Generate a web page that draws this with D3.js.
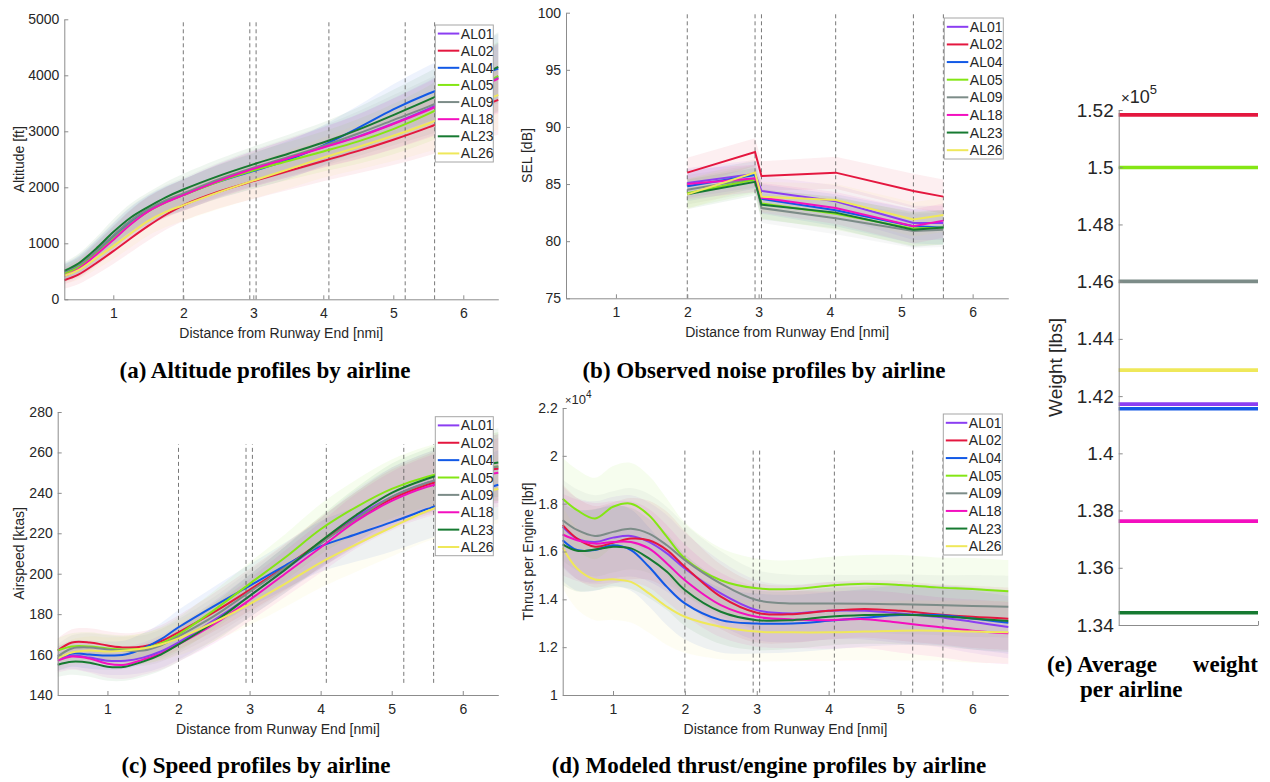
<!DOCTYPE html>
<html>
<head>
<meta charset="utf-8">
<script src="https://cdn.jsdelivr.net/npm/d3@7"></script>
<style>
body { margin: 0; background: #fff; }
svg text { font-family: "Liberation Sans", Arial, sans-serif; fill: #262626; }
.cap { font-family: "Liberation Serif", "Times New Roman", serif; font-weight: bold; fill: #000; }
.axis path, .axis line { stroke: #8c8c8c; }
</style>
</head>
<body>
<svg id="fig" width="1270" height="782"></svg>
<script>
const airlines = ['AL01', 'AL02', 'AL04', 'AL05', 'AL09', 'AL18', 'AL23', 'AL26'];
const colors = ['#8b3ef2', '#e4173f', '#1259e6', '#84e614', '#7c8c88', '#f30fbf', '#167a31', '#efe85a'];

// distance grid of the smoothed profiles [nmi]
const distGrid = [0.3, 0.5, 0.75, 1, 1.25, 1.5, 1.75, 2, 2.5, 3, 3.5, 4, 4.5, 5, 5.5, 6, 6.5];
// microphone locations (dashed guides) [nmi]
const micDist = [2.0, 2.95, 3.04, 4.08, 5.17, 5.59];

// (a) altitude [ft], one row per airline
const altitude = [
  [470, 580, 820, 1090, 1360, 1580, 1740, 1860, 2120, 2330, 2520, 2720, 2910, 3140, 3400, 3680, 3960],
  [340, 440, 640, 860, 1090, 1310, 1510, 1680, 1920, 2110, 2290, 2470, 2650, 2850, 3070, 3320, 3560],
  [480, 600, 850, 1130, 1400, 1600, 1750, 1870, 2100, 2290, 2490, 2750, 3060, 3390, 3670, 3900, 4120],
  [460, 570, 810, 1080, 1350, 1570, 1730, 1860, 2100, 2300, 2470, 2640, 2820, 3040, 3310, 3640, 3990],
  [490, 610, 860, 1140, 1410, 1610, 1770, 1890, 2140, 2350, 2540, 2740, 2960, 3200, 3440, 3700, 3960],
  [420, 540, 790, 1060, 1340, 1570, 1730, 1860, 2110, 2330, 2520, 2710, 2900, 3130, 3380, 3650, 3940],
  [510, 640, 900, 1200, 1460, 1650, 1820, 1960, 2200, 2410, 2600, 2800, 3030, 3290, 3560, 3850, 4150],
  [420, 520, 730, 950, 1180, 1400, 1560, 1680, 1910, 2120, 2320, 2530, 2720, 2920, 3140, 3390, 3650]
];
const altSpread = [150, 170, 200, 230, 250, 260, 270, 280, 300, 320, 340, 360, 400, 450, 500, 560, 620];

// (b) observed SEL [dB] at the microphones
const sel = [
  [85.1, 85.9, 84.4, 83.5, 81.6, 81.6],
  [86.0, 87.8, 85.7, 86.0, 84.4, 83.9],
  [84.8, 85.8, 83.7, 82.7, 81.3, 81.2],
  [84.2, 85.4, 83.3, 82.4, 81.1, 81.2],
  [84.5, 85.5, 82.9, 82.0, 80.9, 81.0],
  [85.0, 85.5, 83.8, 82.9, 81.3, 81.8],
  [84.1, 85.2, 83.2, 82.5, 81.0, 81.2],
  [84.1, 86.0, 83.9, 83.6, 81.9, 82.3]
];
const selSpread = [1.3, 1.2, 1.3, 1.4, 1.5, 1.5];

// (c) airspeed [ktas]
const airspeed = [
  [158, 159.5, 158.5, 157, 157, 158.5, 161.5, 166, 177, 189, 202, 215, 228, 238, 245, 249, 252],
  [162, 166, 166, 164.5, 163.5, 164, 166.5, 171, 181, 192, 203.5, 215.5, 227, 237, 244, 249, 252],
  [158, 160.5, 160, 159.5, 160, 163, 167.5, 173.5, 184, 194, 204, 213.5, 219.5, 225.5, 232, 238.5, 244],
  [162, 164, 164, 163, 162.5, 163, 165.5, 170, 182, 195, 208, 222, 233, 242, 248, 251.5, 253],
  [159, 163, 163.5, 162.5, 162, 162, 164.5, 169, 179, 191, 203, 215, 227, 238, 245, 250, 253],
  [157, 159, 158, 155.5, 155, 157.5, 160.5, 165, 175, 187, 200, 213, 226, 236, 243, 247, 250],
  [155, 156.5, 156, 154, 154, 156.5, 160, 165, 176, 189, 202, 216, 229, 240, 247, 252, 255],
  [158, 161, 162, 161.5, 162, 163, 165, 168, 176, 185, 195, 205.5, 214.5, 223, 231, 237, 242]
];
const speedSpread = [6, 6.5, 7, 7, 7, 7.5, 8, 8.5, 9.5, 10.5, 11.5, 12.5, 13.5, 14.5, 15, 16, 17];

// (d) modeled thrust per engine [lbf]
const thrust = [
  [17030, 16540, 16400, 16580, 16650, 16400, 15920, 15290, 14250, 13550, 13410, 13520, 13520, 13410, 13270, 13060, 12840],
  [17100, 16540, 16200, 16360, 16540, 16470, 16060, 15360, 14110, 13440, 13380, 13520, 13600, 13520, 13380, 13270, 13190],
  [16470, 16060, 16060, 16260, 16060, 15360, 14520, 13830, 13130, 12990, 12990, 13100, 13230, 13340, 13340, 13200, 13020],
  [18210, 17730, 17380, 17870, 18000, 17520, 16610, 15710, 14800, 14460, 14430, 14570, 14650, 14600, 14500, 14430, 14340],
  [17310, 16900, 16650, 16820, 16950, 16750, 16260, 15640, 14660, 13970, 13830, 13830, 13820, 13790, 13760, 13720, 13690],
  [16710, 16470, 16330, 16400, 16400, 16130, 15500, 14800, 13760, 13270, 13160, 13130, 13170, 13020, 12850, 12690, 12580],
  [16300, 16030, 16080, 16200, 16130, 15710, 15150, 14390, 13480, 13130, 13130, 13270, 13340, 13370, 13300, 13200, 13090],
  [16170, 15290, 14830, 14840, 14730, 14250, 13690, 13270, 12850, 12650, 12620, 12620, 12650, 12690, 12690, 12650, 12620]
];
const thrustSpread = [1700, 1700, 1700, 1700, 1700, 1650, 1600, 1500, 1350, 1250, 1200, 1200, 1200, 1250, 1250, 1300, 1300];

// (e) average weight [lbs]
const weights = [141720, 151830, 141560, 149990, 146010, 137630, 134430, 142910];

const svg = d3.select('#fig');

function panel(cfg) {
    const g = svg.append('g');
    const x = d3.scaleLinear().domain([0.3, 6.5]).range([cfg.box.l, cfg.box.r]);
    const y = d3.scaleLinear().domain(cfg.yDomain).range([cfg.box.b, cfg.box.t]);
    const curve = cfg.linear ? d3.curveLinear : d3.curveCatmullRom.alpha(0.5);

    // shaded spread bands
    const area = d3.area()
        .x(d => x(d.x))
        .y0(d => y(d.v - d.s))
        .y1(d => y(d.v + d.s))
        .curve(curve);
    const line = d3.line()
        .x(d => x(d.x))
        .y(d => y(d.v))
        .curve(curve);
    const series = cfg.data.map((row, i) => row.map((v, j) => ({ x: cfg.xs[j], v: v, s: cfg.spread[j] })));

    g.append('g').selectAll('path')
        .data(series)
      .enter().append('path')
        .attr('d', area)
        .attr('fill', (d, i) => colors[i])
        .attr('fill-opacity', 0.07)
        .attr('stroke', 'none');

    // dashed microphone guides
    g.append('g').selectAll('line')
        .data(micDist)
      .enter().append('line')
        .attr('x1', d => x(d)).attr('x2', d => x(d))
        .attr('y1', y(cfg.guide[0])).attr('y2', y(cfg.guide[1]))
        .attr('stroke', '#555')
        .attr('stroke-width', 0.8)
        .attr('stroke-dasharray', '4,3');

    g.append('g').selectAll('path')
        .data(series)
      .enter().append('path')
        .attr('d', line)
        .attr('fill', 'none')
        .attr('stroke', (d, i) => colors[i])
        .attr('stroke-width', 2);

    // axes
    g.append('g').classed('axis', true)
        .attr('transform', 'translate(0,' + cfg.box.b + ')')
        .call(d3.axisBottom(x).tickValues([1, 2, 3, 4, 5, 6]).tickSize(-4).tickSizeOuter(0).tickPadding(9)
            .tickFormat(d3.format('d')));
    g.append('g').classed('axis', true)
        .attr('transform', 'translate(' + cfg.box.l + ',0)')
        .call(d3.axisLeft(y).tickValues(cfg.yTicks).tickSize(-4).tickSizeOuter(0).tickPadding(5)
            .tickFormat(cfg.fmt || (d => d)));
    g.selectAll('.axis text').attr('font-size', '14px').attr('font-family', null);

    g.append('text')
        .attr('x', (cfg.box.l + cfg.box.r) / 2)
        .attr('y', cfg.xlabelY)
        .attr('text-anchor', 'middle')
        .attr('font-size', '14px')
        .text('Distance from Runway End [nmi]');
    g.append('text')
        .attr('transform', 'translate(' + cfg.ylabelX + ',' + ((cfg.box.t + cfg.box.b) / 2) + ') rotate(-90)')
        .attr('dy', '0.35em')
        .attr('text-anchor', 'middle')
        .attr('font-size', '14px')
        .text(cfg.ylabel);

    // legend
    const lg = g.append('g').attr('transform', 'translate(' + cfg.legend.x + ',' + cfg.legend.y + ')');
    lg.append('rect')
        .attr('width', cfg.legend.w).attr('height', cfg.legend.h)
        .attr('fill', '#fff').attr('stroke', '#a6a6a6').attr('stroke-width', 1);
    const step = cfg.legend.h / airlines.length;
    const item = lg.selectAll('.item')
        .data(airlines)
      .enter().append('g')
        .attr('transform', (d, i) => 'translate(0,' + (step * (i + 0.5)) + ')');
    item.append('line')
        .attr('x1', 2.5).attr('x2', 24)
        .attr('stroke', (d, i) => colors[i])
        .attr('stroke-width', 2);
    item.append('text')
        .attr('x', 25.5)
        .attr('dy', '0.36em')
        .attr('font-size', '14px')
        .text(d => d);

    return g;
}

panel({
    box: { l: 64.3, r: 498.3, t: 19.3, b: 299.3 },
    yDomain: [0, 5000], yTicks: [0, 1000, 2000, 3000, 4000, 5000],
    data: altitude, spread: altSpread, xs: distGrid, guide: [0, 5000],
    legend: { x: 435.3, y: 25, w: 58, h: 137 },
    ylabel: 'Altitude [ft]', ylabelX: 19, xlabelY: 338
});

panel({
    box: { l: 566, r: 1008.3, t: 12.7, b: 298.3 },
    yDomain: [75, 100], yTicks: [75, 80, 85, 90, 95, 100],
    data: sel, spread: selSpread, xs: micDist, guide: [75, 100], linear: true,
    legend: { x: 944.3, y: 18, w: 59, h: 141 },
    ylabel: 'SEL [dB]', ylabelX: 527, xlabelY: 337
});

panel({
    box: { l: 57.7, r: 498.3, t: 412, b: 695 },
    yDomain: [140, 280], yTicks: [140, 160, 180, 200, 220, 240, 260, 280],
    data: airspeed, spread: speedSpread, xs: distGrid, guide: [146, 264],
    legend: { x: 435.3, y: 416.7, w: 58, h: 139 },
    ylabel: 'Airspeed [ktas]', ylabelX: 19, xlabelY: 734
});

panel({
    box: { l: 562.7, r: 1008.3, t: 408, b: 695 },
    yDomain: [10000, 22000], yTicks: [10000, 12000, 14000, 16000, 18000, 20000, 22000],
    data: thrust, spread: thrustSpread, xs: distGrid, guide: [10100, 20300],
    fmt: d => d / 1e4,
    legend: { x: 943.3, y: 414, w: 59, h: 141 },
    ylabel: 'Thrust per Engine [lbf]', ylabelX: 528, xlabelY: 734
});

// x10^4 exponent of panel (d)
const e4 = svg.append('text').attr('x', 565).attr('y', 404);
e4.append('tspan').attr('font-size', '11px').text('\u00d7');
e4.append('tspan').attr('font-size', '13px').text('10');
e4.append('tspan').attr('font-size', '10px').attr('dy', -6).text('4');

// (e) average weight panel
const eg = svg.append('g');
const wy = d3.scaleLinear().domain([134000, 152000]).range([625, 110]);
const wx = d3.scaleLinear().domain([0, 1]).range([1118.7, 1258]);
eg.selectAll('.w')
    .data(weights)
  .enter().append('line')
    .attr('x1', wx(0)).attr('x2', wx(1))
    .attr('y1', d => wy(d)).attr('y2', d => wy(d))
    .attr('stroke', (d, i) => colors[i])
    .attr('stroke-width', 3.6);
eg.append('g').classed('axis', true)
    .attr('transform', 'translate(' + wx(0) + ',0)')
    .call(d3.axisLeft(wy).tickValues(d3.range(134000, 152001, 2000)).tickSize(-4).tickSizeOuter(0).tickPadding(5)
        .tickFormat(d => +(d / 1e5).toFixed(2)));
eg.append('g').classed('axis', true)
    .attr('transform', 'translate(0,' + wy(134000) + ')')
    .call(d3.axisBottom(wx).tickValues([1]).tickSize(-4).tickSizeOuter(0).tickFormat(''));
eg.selectAll('.axis text').attr('font-size', '19px').attr('font-family', null);
eg.append('text')
    .attr('transform', 'translate(1055,' + ((wy(134000) + wy(152000)) / 2) + ') rotate(-90)')
    .attr('dy', '0.35em')
    .attr('text-anchor', 'middle')
    .attr('font-size', '19px')
    .text('Weight [lbs]');
const e5 = svg.append('text').attr('x', 1121).attr('y', 103);
e5.append('tspan').attr('font-size', '15px').text('\u00d7');
e5.append('tspan').attr('font-size', '18px').text('10');
e5.append('tspan').attr('font-size', '13px').attr('dy', -9).text('5');

// captions
const caps = [
    { t: '(a) Altitude profiles by airline', x: 265, y: 378 },
    { t: '(b) Observed noise profiles by airline', x: 764, y: 378 },
    { t: '(c) Speed profiles by airline', x: 256, y: 773 },
    { t: '(d) Modeled thrust/engine profiles by airline', x: 769, y: 773 }
];
svg.selectAll('.cap')
    .data(caps)
  .enter().append('text')
    .classed('cap', true)
    .attr('x', d => d.x).attr('y', d => d.y)
    .attr('text-anchor', 'middle')
    .attr('font-size', '23px')
    .text(d => d.t);
svg.append('text').classed('cap', true).attr('x', 1047).attr('y', 672).attr('font-size', '23px').text('(e) Average');
svg.append('text').classed('cap', true).attr('x', 1258).attr('y', 672).attr('text-anchor', 'end').attr('font-size', '23px').text('weight');
svg.append('text').classed('cap', true).attr('x', 1080).attr('y', 697).attr('font-size', '23px').text('per airline');
</script>
</body>
</html>
